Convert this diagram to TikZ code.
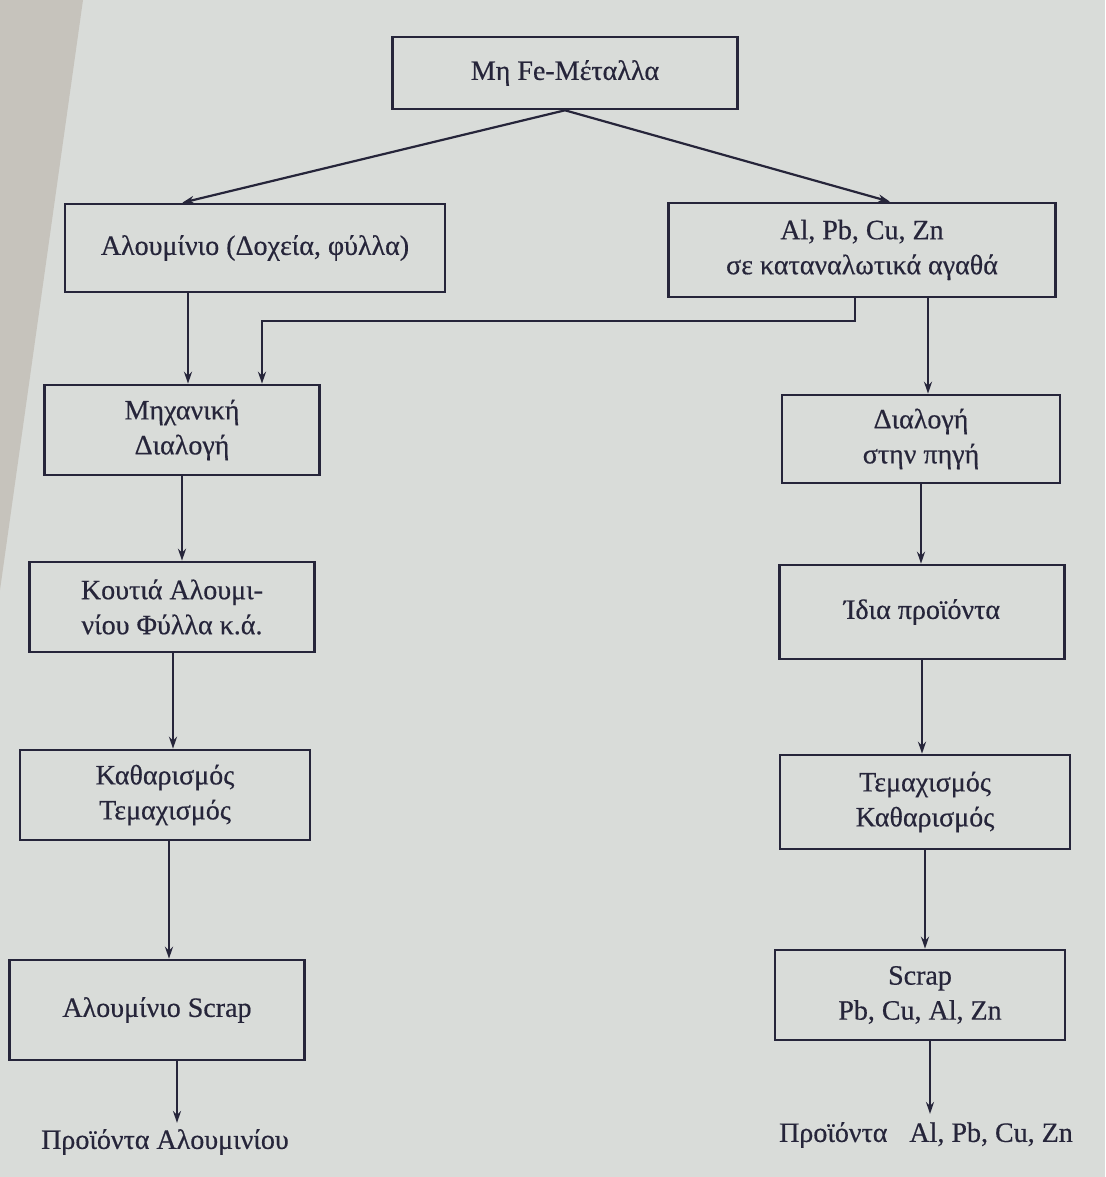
\documentclass[tikz,border=0pt]{standalone}
\usepackage{fontspec}
\setmainfont{Liberation Serif}[FakeBold=0.5]
\usetikzlibrary{arrows.meta,calc}
\definecolor{ink}{HTML}{26253A}
\definecolor{paper}{HTML}{D9DCD9}
\definecolor{edge}{HTML}{C6C3BC}
\begin{document}
\begin{tikzpicture}[x=1pt,y=-1pt,
  box/.style={draw=ink,line width=2.6pt,rectangle,align=center,text=ink,inner sep=0pt,
    font=\fontsize{28}{35}\selectfont},
  lbl/.style={text=ink,inner sep=0pt,font=\fontsize{28}{35}\selectfont},
  conn/.style={draw=ink,line width=2.2pt},
  arr/.style={conn,-{Stealth[length=12pt,width=8pt]}}]
\fill[paper] (0,0) rectangle (1105,1177);
\fill[edge] (0,0) -- (83,0) -- (0,590) -- cycle;
\useasboundingbox (0,0) rectangle (1105,1177);

\node[box,minimum width=345pt,minimum height=72pt] (top) at (565,73) {Μη Fe-Μέταλλα};
\node[box,minimum width=380pt,minimum height=88pt] (alu) at (255,248) {Αλουμίνιο (Δοχεία, φύλλα)};
\node[box,minimum width=387pt,minimum height=94pt] (cons) at (862,250) {Al, Pb, Cu, Zn\\σε καταναλωτικά αγαθά};
\node[box,minimum width=275pt,minimum height=90pt] (mech) at (182,430) {Μηχανική\\Διαλογή};
\node[box,minimum width=278pt,minimum height=88pt] (src) at (921,439) {Διαλογή\\στην πηγή};
\node[box,minimum width=285pt,minimum height=90pt] (cans) at (172,607) {Κουτιά Αλουμι-\\νίου Φύλλα κ.ά.};
\node[box,minimum width=285pt,minimum height=94pt] (own) at (922,612) {Ίδια προϊόντα};
\node[box,minimum width=290pt,minimum height=90pt] (cleanL) at (165,795) {Καθαρισμός\\Τεμαχισμός};
\node[box,minimum width=290pt,minimum height=94pt] (shredR) at (925,802) {Τεμαχισμός\\Καθαρισμός};
\node[box,minimum width=295pt,minimum height=100pt] (scrapL) at (157,1010) {Αλουμίνιο Scrap};
\node[box,minimum width=290pt,minimum height=90pt] (scrapR) at (920,995) {Scrap\\Pb, Cu, Al, Zn};
\node[lbl] (outL) at (165,1142) {Προϊόντα Αλουμινίου};
\node[lbl] (outR) at (926,1135) {Προϊόντα\hspace{22pt}Al, Pb, Cu, Zn};

\draw[arr] (top.south) -- ($(alu.north west)!0.31!(alu.north east)$);
\draw[arr] (top.south) -- ([xshift=28pt]cons.north);
\draw[arr] ([xshift=6pt]mech.north |- alu.south) -- ([xshift=6pt]mech.north);
\draw[arr] ([xshift=-7pt]cons.south) -- ++(0,23) -| ([xshift=80pt]mech.north);
\draw[arr] ([xshift=7pt]src.north |- cons.south) -- ([xshift=7pt]src.north);
\draw[arr] (mech.south) -- (mech.south |- cans.north);
\draw[arr] (src.south) -- (src.south |- own.north);
\draw[arr] ([xshift=8pt]cleanL.north |- cans.south) -- ([xshift=8pt]cleanL.north);
\draw[arr] (own.south) -- (own.south |- shredR.north);
\draw[arr] ([xshift=12pt]scrapL.north |- cleanL.south) -- ([xshift=12pt]scrapL.north);
\draw[arr] ([xshift=5pt]scrapR.north |- shredR.south) -- ([xshift=5pt]scrapR.north);
\draw[arr] ([xshift=20pt]scrapL.south) -- ([xshift=20pt,yshift=6pt]scrapL.south |- outL.north);
\draw[arr] ([xshift=10pt]scrapR.south) -- ([xshift=10pt,yshift=8pt]scrapR.south |- outR.north);
\end{tikzpicture}
\end{document}
